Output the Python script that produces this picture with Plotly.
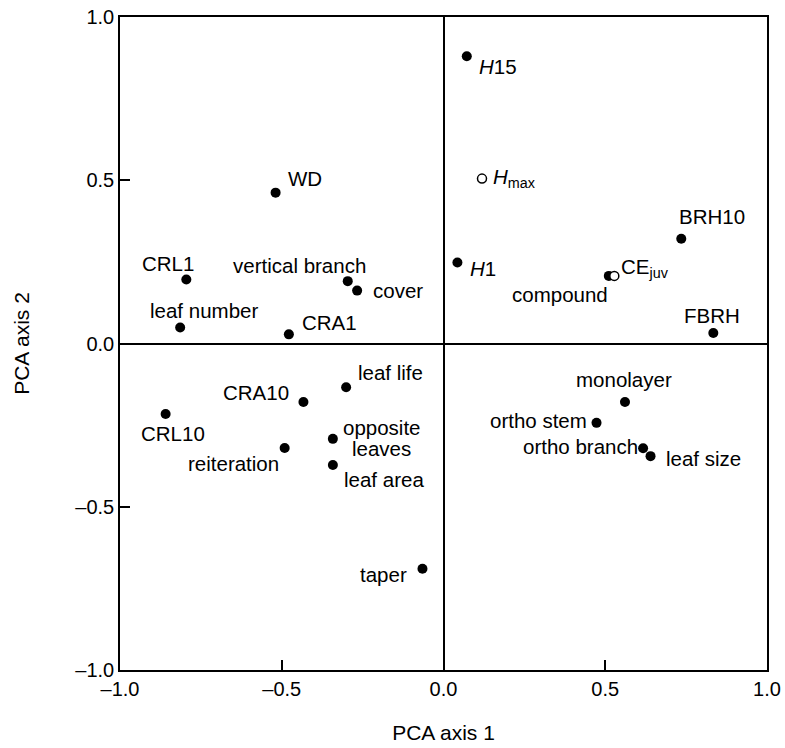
import plotly.graph_objects as go

# ---- data ----
labels = ["<i>H</i>15", "<i>H</i><sub>max</sub>", "BRH10", "<i>H</i>1", "CE<sub>juv</sub>",
          "compound", "FBRH", "WD", "CRL1", "vertical branch", "cover", "leaf number",
          "CRA1", "leaf life", "CRA10", "CRL10", "opposite\nleaves", "reiteration",
          "leaf area", "taper", "monolayer", "ortho stem", "ortho branch", "leaf size"]
pca1 = [0.072, 0.119, 0.735, 0.043, 0.528, 0.511, 0.834, -0.519, -0.795, -0.296, -0.267,
        -0.814, -0.478, -0.301, -0.433, -0.859, -0.342, -0.491, -0.342, -0.065, 0.561,
        0.473, 0.617, 0.640]
pca2 = [0.880, 0.505, 0.321, 0.248, 0.207, 0.207, 0.032, 0.462, 0.196, 0.191, 0.162,
        0.049, 0.028, -0.134, -0.179, -0.216, -0.292, -0.320, -0.372, -0.690, -0.179,
        -0.243, -0.321, -0.345]
filled = [True, False, True, True, False, True, True, True, True, True, True, True,
          True, True, True, True, True, True, True, True, True, True, True, True]
tick_vals = [-1.0, -0.5, 0.0, 0.5, 1.0]
tick_text = ["\u20131.0", "\u20130.5", "0.0", "0.5", "1.0"]

# ---- label placement style: (xanchor, xshift px, yshift px) ----
label_style = {
    "<i>H</i>15": ("left", 10, -10),
    "<i>H</i><sub>max</sub>": ("left", 9, 1),
    "BRH10": ("left", -4, 22),
    "<i>H</i>1": ("left", 11, -6),
    "CE<sub>juv</sub>": ("left", 5, 8),
    "compound": ("right", 1, -19),
    "FBRH": ("left", -31, 18),
    "WD": ("left", 10, 14),
    "CRL1": ("left", -46, 16),
    "vertical branch": ("right", 20, 16),
    "cover": ("left", 14, 0),
    "leaf number": ("left", -32, 17),
    "CRA1": ("left", 11, 12),
    "leaf life": ("left", 10, 15),
    "CRA10": ("right", -12, 9),
    "CRL10": ("left", -27, -19),
    "opposite\nleaves": ("center", 49, 11),
    "reiteration": ("right", -4, -16),
    "leaf area": ("left", 9, -15),
    "taper": ("right", -13, -6),
    "monolayer": ("center", -1, 22),
    "ortho stem": ("right", -8, 2),
    "ortho branch": ("right", -3, 2),
    "leaf size": ("left", 13, -2),
}

FONT = "Liberation Sans, Arial, Helvetica, sans-serif"
fs = 20.5

fig = go.Figure()
fx = [x for x, f in zip(pca1, filled) if f]
fy = [y for y, f in zip(pca2, filled) if f]
ox = [x for x, f in zip(pca1, filled) if not f]
oy = [y for y, f in zip(pca2, filled) if not f]
fig.add_trace(go.Scatter(x=fx, y=fy, mode="markers",
                         marker=dict(size=10, color="black", line=dict(width=0)),
                         showlegend=False, hoverinfo="skip"))
fig.add_trace(go.Scatter(x=ox, y=oy, mode="markers",
                         marker=dict(size=9, color="white", line=dict(width=1.5, color="black")),
                         showlegend=False, hoverinfo="skip"))

for lab, x, y in zip(labels, pca1, pca2):
    xa, xs, ys = label_style[lab]
    lines = lab.split("\n")
    for i, ln in enumerate(lines):
        fig.add_annotation(x=x, y=y, xref="x", yref="y", text=ln, showarrow=False,
                           xanchor=xa, yanchor="middle", xshift=xs, yshift=ys - 21 * i,
                           font=dict(family=FONT, size=fs, color="black"))

axis_common = dict(range=[-1, 1], tickvals=tick_vals, ticktext=tick_text,
                   ticks="inside", ticklen=10, tickwidth=1.5, tickcolor="black",
                   showline=True, linecolor="black", linewidth=1.5, mirror=True,
                   showgrid=False, zeroline=True, zerolinecolor="black", zerolinewidth=1.5,
                   automargin=False,
                   tickfont=dict(family=FONT, size=20, color="black"),
                   title_font=dict(family=FONT, size=21, color="black"))

fig.update_xaxes(**axis_common, title_text="PCA axis 1", title_standoff=27)
fig.update_yaxes(**axis_common, title_text="PCA axis 2", title_standoff=40)

fig.update_layout(template="none", width=785, height=748,
                  margin=dict(l=120, r=18, t=17, b=78),
                  plot_bgcolor="white", paper_bgcolor="white",
                  font=dict(family=FONT, color="black"))

fig.write_html("out.html", config={"displayModeBar": False},
               post_script="document.body.style.margin='0';document.body.style.padding='0';")
